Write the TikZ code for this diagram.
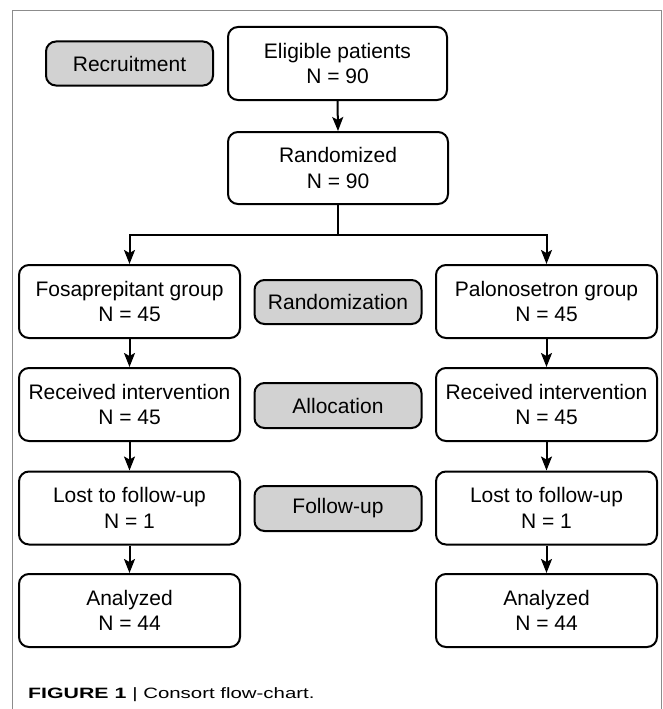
\documentclass[tikz,border=0pt]{standalone}
\usepackage{fontspec}
\setmainfont{Liberation Sans}
\newfontfamily\capfont[FakeStretch=1.42]{Liberation Sans}
\newfontfamily\capwide[FakeStretch=1.36]{Liberation Sans}
\usetikzlibrary{arrows.meta}
\definecolor{boxgray}{HTML}{D2D2D2}
\definecolor{framegray}{HTML}{8C8C8C}
\tikzset{
  wbox/.style={draw, line width=2pt, rounded corners=10pt, fill=white, align=center,
    inner sep=0pt, font=\fontsize{21}{25.5}\selectfont},
  gbox/.style={draw, line width=2pt, rounded corners=10pt, fill=boxgray, align=center,
    inner sep=0pt, minimum width=167pt, minimum height=44pt, font=\fontsize{21}{25.5}\selectfont},
  arr/.style={line width=2pt, -{Stealth[length=14pt,width=11pt,inset=3pt]}},
  ln/.style={line width=2pt}
}
\begin{document}
\begin{tikzpicture}[x=1pt,y=-1pt]
\useasboundingbox (0,0) rectangle (663,709);
\draw[framegray, line width=1.5pt] (12.5,712) -- (12.5,10.5) -- (661.5,10.5) -- (661.5,712);

\node[gbox] (recruit) at (129.5,63.5) {Recruitment};
\node[wbox, minimum width=219pt, minimum height=73pt] (elig) at (337.5,63.5) {Eligible patients\\N = 90};
\node[wbox, minimum width=220pt, minimum height=72pt] (rand) at (338,168) {Randomized\\N = 90};

\node[wbox, minimum width=221pt, minimum height=73pt] (fosa) at (129.5,301.5) {Fosaprepitant group\\N = 45};
\node[gbox] (randz) at (338,302) {Randomization};
\node[wbox, minimum width=221pt, minimum height=73pt] (palo) at (546.5,301.5) {Palonosetron group\\N = 45};

\node[wbox, minimum width=221pt, minimum height=73pt] (recL) at (129.5,404.5) {Received intervention\\N = 45};
\node[gbox, minimum height=45pt] (alloc) at (338,405.5) {Allocation};
\node[wbox, minimum width=221pt, minimum height=73pt] (recR) at (546.5,404.5) {Received intervention\\N = 45};

\node[wbox, minimum width=221pt, minimum height=73pt] (lostL) at (129.5,508) {Lost to follow-up\\N = 1};
\node[gbox, minimum height=45pt] (follow) at (338,508.5) {Follow-up};
\node[wbox, minimum width=221pt, minimum height=73pt] (lostR) at (546.5,508) {Lost to follow-up\\N = 1};

\node[wbox, minimum width=221pt, minimum height=73pt] (anaL) at (129.5,610.5) {Analyzed\\N = 44};
\node[wbox, minimum width=221pt, minimum height=73pt] (anaR) at (546.5,610.5) {Analyzed\\N = 44};

\coordinate (j) at (338,235);
\draw[arr] (elig.south) -- (rand.north);
\draw[ln] (rand.south) -- (j);
\draw[arr] (j) -| (fosa.north);
\draw[arr] (j) -| (palo.north);
\draw[arr] (fosa.south) -- (recL.north);
\draw[arr] (recL.south) -- (lostL.north);
\draw[arr] (lostL.south) -- (anaL.north);
\draw[arr] (palo.south) -- (recR.north);
\draw[arr] (recR.south) -- (lostR.north);
\draw[arr] (lostR.south) -- (anaR.north);

\node[anchor=base west, inner sep=0pt, font=\capfont\fontsize{15}{18}\selectfont] (cap) at (28,698)
  {\textbf{FIGURE 1} {\capwide\fontsize{15}{18}\selectfont | Consort flow-chart.}};
\end{tikzpicture}
\end{document}
